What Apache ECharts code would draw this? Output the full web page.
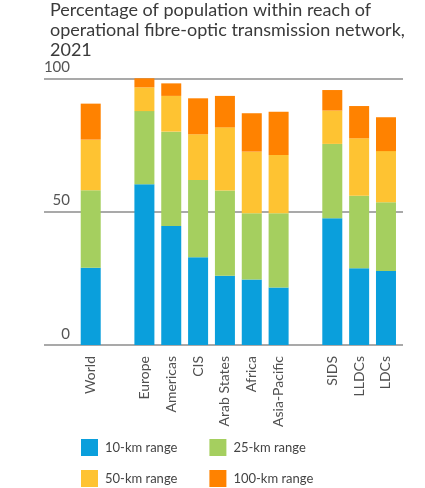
<!DOCTYPE html>
<html>
<head>
<meta charset="utf-8">
<script src="https://cdn.jsdelivr.net/npm/echarts@6/dist/echarts.min.js"></script>
<style>html,body{margin:0;padding:0;background:#fff}#c{width:425px;height:488px}</style>
</head>
<body>
<div id="c"></div>
<script>
const titleText = 'Percentage of population within reach of\noperational fibre-optic transmission network,\n2021';
const categories = ['World', '', 'Europe', 'Americas', 'CIS', 'Arab States', 'Africa', 'Asia-Pacific', '', 'SIDS', 'LLDCs', 'LDCs'];
const seriesNames = ['10-km range', '25-km range', '50-km range', '100-km range'];
const range10  = [29.0, '-', 60.3, 44.6, 32.9, 26.0, 24.6, 21.6, '-', 47.5, 28.8, 27.7];
const range25  = [29.0, '-', 27.4, 35.4, 29.0, 31.9, 24.8, 27.8, '-', 27.9, 27.2, 25.8];
const range50  = [19.0, '-', 8.9, 13.4, 17.1, 23.7, 23.1, 21.8, '-', 12.5, 21.5, 19.2];
const range100 = [13.5, '-', 3.4, 4.7, 13.5, 11.8, 14.4, 16.3, '-', 7.7, 12.1, 12.7];
const yTicks = [0, 50, 100];
const colors = ['#0A9FDC', '#A5CF5F', '#FEC332', '#FF8200'];

const FONT = 'Lato';
const chart = echarts.init(document.getElementById('c'), null, {renderer: 'canvas'});
const valuesList = [range10, range25, range50, range100];
const legendBase = {itemWidth: 17, itemHeight: 17, itemGap: 32, icon: 'rect', padding: 0,
  textStyle: {fontFamily: FONT, fontSize: 13, color: '#444', padding: [0, 0, 0, 2]}};
chart.setOption({
  animation: false,
  color: colors,
  textStyle: {fontFamily: FONT},
  title: {
    text: titleText, left: 45, top: -5,
    textStyle: {fontFamily: FONT, fontSize: 18, fontWeight: 'normal', color: '#3a3a3a', lineHeight: 20}
  },
  legend: [
    Object.assign({data: seriesNames.slice(0, 2), left: 81, top: 439}, legendBase),
    Object.assign({data: seriesNames.slice(2, 4), left: 81, top: 470}, legendBase)
  ],
  grid: [
    {left: 44, right: 22, top: 78.3, bottom: 143},
    {left: 77.3, right: 25.6, top: 78.3, bottom: 143}
  ],
  xAxis: [
    {gridIndex: 0, type: 'value', min: 0, max: 1, show: false},
    {gridIndex: 1, type: 'category', data: categories,
     axisLine: {show: false}, axisTick: {show: false},
     axisLabel: {rotate: 90, interval: 0, margin: 11, fontSize: 14, color: '#505050', fontFamily: FONT}}
  ],
  yAxis: [
    {gridIndex: 0, type: 'value', min: 0, max: 100, interval: 50,
     axisLine: {show: false}, axisTick: {show: false},
     splitLine: {show: true, lineStyle: {color: '#8c8c8c', width: 1.5}},
     axisLabel: {inside: true, margin: 26, align: 'right', verticalAlign: 'bottom', padding: [0, 0, 3, 0],
       fontSize: 15, color: '#555', fontFamily: FONT, lineHeight: 16,
       formatter: v => yTicks.includes(v) ? String(v) : ''}},
    {gridIndex: 1, type: 'value', min: 0, max: 100, show: false}
  ],
  series: seriesNames.map((name, i) => ({
    name, type: 'bar', stack: 'total', xAxisIndex: 1, yAxisIndex: 1,
    barWidth: 20, data: valuesList[i], itemStyle: {color: colors[i]}, z: 3
  }))
});
</script>
</body>
</html>
